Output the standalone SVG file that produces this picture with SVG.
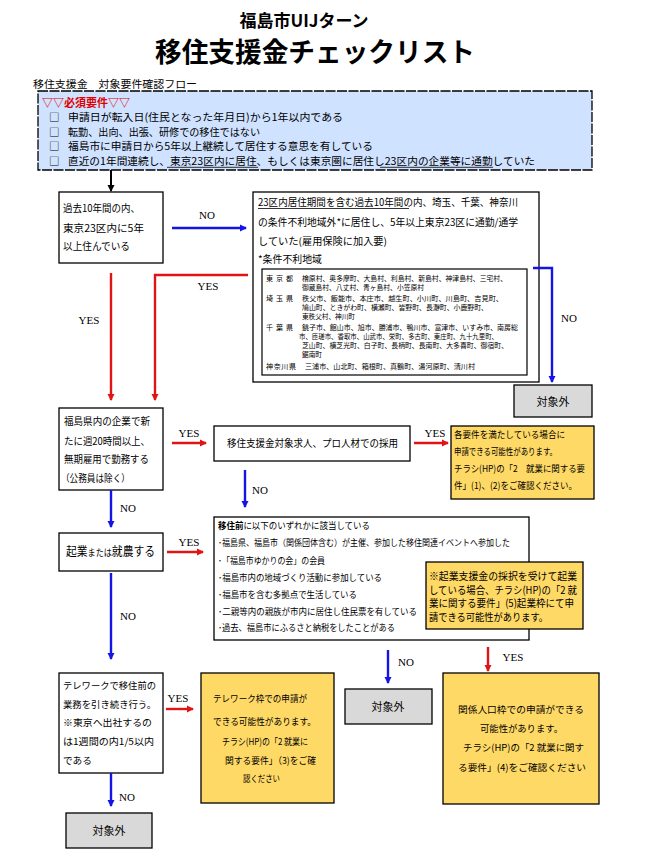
<svg xmlns="http://www.w3.org/2000/svg" width="646" height="863" viewBox="0 0 646 863">
<style>
.t{font-family:"Noto Sans CJK JP","Noto Sans",sans-serif;fill:#000}
.yn{font-family:"Liberation Serif",serif;font-size:11px;fill:#000}
.box{fill:#fff;stroke:#000;stroke-width:1.3}
.yel{fill:#ffd966;stroke:#000;stroke-width:1.3}
.gray{fill:#d9d9d9;stroke:#000;stroke-width:1.3}
.blue{stroke:#1414e6;stroke-width:2.4;fill:none}
.red{stroke:#e01414;stroke-width:2.4;fill:none}
.blk{stroke:#000;stroke-width:2;fill:none}
.f10{font-size:10px}
.f9{font-size:9.5px}
.tb{font-size:7px}
</style>
<defs>
<marker id="ab" markerWidth="8" markerHeight="8" refX="6" refY="4" orient="auto" markerUnits="userSpaceOnUse"><path d="M0,0.5 L7,4 L0,7.5 Z" fill="#1414e6"/></marker>
<marker id="ar" markerWidth="8" markerHeight="8" refX="6" refY="4" orient="auto" markerUnits="userSpaceOnUse"><path d="M0,0.5 L7,4 L0,7.5 Z" fill="#e01414"/></marker>
<marker id="ak" markerWidth="8" markerHeight="8" refX="6" refY="4" orient="auto" markerUnits="userSpaceOnUse"><path d="M0,0.5 L7,4 L0,7.5 Z" fill="#000"/></marker>
</defs>
<rect width="646" height="863" fill="#fff"/>

<g id="title">
<text class="t" x="304" y="27" text-anchor="middle" font-size="17" font-weight="700">福島市UIJターン</text>
<text class="t" x="315" y="62" text-anchor="middle" font-size="27" font-weight="700" textLength="320" lengthAdjust="spacingAndGlyphs">移住支援金チェックリスト</text>
<text class="t" x="33" y="88" font-size="10.5" textLength="164" lengthAdjust="spacingAndGlyphs">移住支援金　対象要件確認フロー</text>
</g>

<g id="requirements">
<rect x="38" y="91" width="554" height="79" fill="#cfe2ff" stroke="#000" stroke-width="1.3" stroke-dasharray="10,1.5"/>
<text class="t" x="42" y="106.5" font-size="11" font-weight="700" style="fill:#e00000" textLength="88" lengthAdjust="spacingAndGlyphs">▽▽必須要件▽▽</text>
<g font-size="10.5">
<text class="t" x="49" y="121">□</text>
<text class="t" x="68" y="121" textLength="275" lengthAdjust="spacingAndGlyphs">申請日が転入日(住民となった年月日)から1年以内である</text>
<text class="t" x="49" y="135.5">□</text>
<text class="t" x="68" y="135.5" textLength="192" lengthAdjust="spacingAndGlyphs">転勤、出向、出張、研修での移住ではない</text>
<text class="t" x="49" y="150">□</text>
<text class="t" x="68" y="150" textLength="305" lengthAdjust="spacingAndGlyphs">福島市に申請日から5年以上継続して居住する意思を有している</text>
<text class="t" x="49" y="164.5">□</text>
<text class="t" x="68" y="164.5" textLength="467" lengthAdjust="spacingAndGlyphs">直近の1年間連続し、東京23区内に居住、もしくは東京圏に居住し23区内の企業等に通勤していた</text>
</g>
<line x1="167" y1="167.3" x2="258" y2="167.3" stroke="#000" stroke-width="0.8"/>
<line x1="380" y1="167.3" x2="493" y2="167.3" stroke="#000" stroke-width="0.8"/>
</g>

<g id="q1">
<rect class="box" x="59" y="192" width="104" height="71"/>
<text class="t f10" x="63" y="212" textLength="77" lengthAdjust="spacingAndGlyphs">過去10年間の内、</text>
<text class="t f10" x="63" y="232" textLength="81" lengthAdjust="spacingAndGlyphs">東京23区内に5年</text>
<text class="t f10" x="63" y="250" textLength="67" lengthAdjust="spacingAndGlyphs">以上住んでいる</text>
</g>

<g id="q2">
<rect class="box" x="253" y="192" width="286" height="190"/>
<text class="t f10" x="258" y="206" textLength="260" lengthAdjust="spacingAndGlyphs">23区内居住期間を含む過去10年間の内、埼玉、千葉、神奈川</text>
<line x1="258" y1="208.5" x2="409" y2="208.5" stroke="#000" stroke-width="0.8"/>
<text class="t f10" x="258" y="226" textLength="260" lengthAdjust="spacingAndGlyphs">の条件不利地域外*に居住し、5年以上東京23区に通勤/通学</text>
<text class="t f10" x="258" y="245" textLength="129" lengthAdjust="spacingAndGlyphs">していた(雇用保険に加入要)</text>
<text class="t f10" x="258" y="263" textLength="64" lengthAdjust="spacingAndGlyphs">*条件不利地域</text>
<rect x="262" y="269" width="265" height="106" fill="#fff" stroke="#000" stroke-width="1.2"/>
<g class="tb">
<text class="t tb" x="266" y="281" textLength="27">東京都</text>
<text class="t tb" x="302" y="281" textLength="205" lengthAdjust="spacingAndGlyphs">檜原村、奥多摩町、大島村、利島村、新島村、神津島村、三宅村、</text>
<text class="t tb" x="302" y="290" textLength="122" lengthAdjust="spacingAndGlyphs">御蔵島村、八丈村、青ヶ島村、小笠原村</text>
<text class="t tb" x="266" y="301" textLength="27">埼玉県</text>
<text class="t tb" x="302" y="301" textLength="201" lengthAdjust="spacingAndGlyphs">秩父市、飯能市、本庄市、越生町、小川町、川島町、吉見町、</text>
<text class="t tb" x="302" y="310" textLength="186" lengthAdjust="spacingAndGlyphs">鳩山町、ときがわ町、横瀬町、皆野町、長瀞町、小鹿野町、</text>
<text class="t tb" x="302" y="319" textLength="53" lengthAdjust="spacingAndGlyphs">東秩父村、神川町</text>
<text class="t tb" x="266" y="330" textLength="27">千葉県</text>
<text class="t tb" x="302" y="330" textLength="216" lengthAdjust="spacingAndGlyphs">銚子市、館山市、旭市、勝浦市、鴨川市、富津市、いすみ市、南房総</text>
<text class="t tb" x="299" y="339" textLength="199" lengthAdjust="spacingAndGlyphs">市、匝瑳市、香取市、山武市、栄町、多古町、東庄町、九十九里町、</text>
<text class="t tb" x="302" y="348" textLength="206" lengthAdjust="spacingAndGlyphs">芝山町、横芝光町、白子町、長柄町、長南町、大多喜町、御宿町、</text>
<text class="t tb" x="302" y="357" textLength="20" lengthAdjust="spacingAndGlyphs">鋸南町</text>
<text class="t tb" x="266" y="369" textLength="30">神奈川県</text>
<text class="t tb" x="305" y="369" textLength="170" lengthAdjust="spacingAndGlyphs">三浦市、山北町、箱根町、真鶴町、湯河原町、清川村</text>
</g>
</g>

<g id="out1">
<rect class="gray" x="514" y="385" width="78" height="32"/>
<text class="t" x="553" y="406" text-anchor="middle" font-size="11">対象外</text>
</g>

<g id="q3">
<rect class="box" x="59" y="408" width="104" height="82"/>
<text class="t f10" x="64" y="425" textLength="86" lengthAdjust="spacingAndGlyphs">福島県内の企業で新</text>
<text class="t f10" x="64" y="445" textLength="86" lengthAdjust="spacingAndGlyphs">たに週20時間以上、</text>
<text class="t f10" x="64" y="463" textLength="85" lengthAdjust="spacingAndGlyphs">無期雇用で勤務する</text>
<text class="t f10" x="61" y="482" textLength="69" lengthAdjust="spacingAndGlyphs">（公務員は除く）</text>
</g>

<g id="q3b">
<rect class="box" x="214" y="426" width="196" height="35"/>
<text class="t f10" x="227" y="447" textLength="171" lengthAdjust="spacingAndGlyphs">移住支援金対象求人、プロ人材での採用</text>
</g>

<g id="res1">
<rect class="yel" x="451" y="426" width="143" height="73"/>
<text class="t f9" x="454" y="438" textLength="111" lengthAdjust="spacingAndGlyphs">各要件を満たしている場合に</text>
<text class="t f9" x="454" y="455" textLength="103" lengthAdjust="spacingAndGlyphs">申請できる可能性があります。</text>
<text class="t f9" x="454" y="472" textLength="131" lengthAdjust="spacingAndGlyphs">チラシ(HP)の「2　就業に関する要</text>
<text class="t f9" x="454" y="489" textLength="123" lengthAdjust="spacingAndGlyphs">件」(1)、(2)をご確認ください。</text>
</g>

<g id="q4">
<rect class="box" x="59" y="533" width="104" height="38"/>
<text class="t" x="66" y="556" font-size="12" textLength="89" lengthAdjust="spacingAndGlyphs">起業<tspan font-size="9">または</tspan>就農する</text>
</g>

<g id="q4b">
<rect class="box" x="214" y="517" width="315" height="123"/>
<text class="t" x="218" y="529" font-size="9" textLength="152" lengthAdjust="spacingAndGlyphs"><tspan font-weight="700">移住前</tspan>に以下のいずれかに該当している</text>
<text class="t" x="218" y="546" font-size="9" textLength="292" lengthAdjust="spacingAndGlyphs">･福島県、福島市（関係団体含む）が主催、参加した移住関連イベントへ参加した</text>
<text class="t" x="218" y="564" font-size="9" textLength="107" lengthAdjust="spacingAndGlyphs">･「福島市ゆかりの会」の会員</text>
<text class="t" x="218" y="581" font-size="9" textLength="164" lengthAdjust="spacingAndGlyphs">･福島市内の地域づくり活動に参加している</text>
<text class="t" x="218" y="598" font-size="9" textLength="139" lengthAdjust="spacingAndGlyphs">･福島市を含む多拠点で生活している</text>
<text class="t" x="218" y="615" font-size="9" textLength="199" lengthAdjust="spacingAndGlyphs">･二親等内の親族が市内に居住し住民票を有している</text>
<text class="t" x="218" y="631" font-size="9" textLength="177" lengthAdjust="spacingAndGlyphs">･過去、福島市にふるさと納税をしたことがある</text>
</g>

<g id="note">
<rect class="yel" x="426" y="562" width="157" height="67"/>
<text class="t" x="429" y="580" font-size="10.5" textLength="148" lengthAdjust="spacingAndGlyphs">※起業支援金の採択を受けて起業</text>
<text class="t" x="429" y="593.5" font-size="10.5" textLength="148" lengthAdjust="spacingAndGlyphs">している場合、チラシ(HP)の「2 就</text>
<text class="t" x="429" y="607" font-size="10.5" textLength="145" lengthAdjust="spacingAndGlyphs">業に関する要件」(5)起業枠にて申</text>
<text class="t" x="429" y="620.5" font-size="10.5" textLength="119" lengthAdjust="spacingAndGlyphs">請できる可能性があります。</text>
</g>

<g id="out2">
<rect class="gray" x="345" y="689" width="87" height="35"/>
<text class="t" x="388" y="711" text-anchor="middle" font-size="11">対象外</text>
</g>

<g id="res3">
<rect class="yel" x="443" y="673" width="156" height="131"/>
<text class="t f9" x="458" y="713" textLength="126" lengthAdjust="spacingAndGlyphs">関係人口枠での申請ができる</text>
<text class="t f9" x="480" y="732" textLength="83" lengthAdjust="spacingAndGlyphs">可能性があります。</text>
<text class="t f9" x="463" y="751" textLength="121" lengthAdjust="spacingAndGlyphs">チラシ(HP)の「2 就業に関す</text>
<text class="t f9" x="458" y="771" textLength="128" lengthAdjust="spacingAndGlyphs">る要件」(4)をご確認ください</text>
</g>

<g id="q5">
<rect class="box" x="59" y="673" width="104" height="100"/>
<text class="t f9" x="63" y="689" textLength="93" lengthAdjust="spacingAndGlyphs">テレワークで移住前の</text>
<text class="t f9" x="63" y="708" textLength="93" lengthAdjust="spacingAndGlyphs">業務を引き続き行う。</text>
<text class="t f9" x="63" y="726" textLength="89" lengthAdjust="spacingAndGlyphs">※東京へ出社するの</text>
<text class="t f9" x="63" y="745" textLength="91" lengthAdjust="spacingAndGlyphs">は1週間の内1/5以内</text>
<text class="t f9" x="63" y="764" textLength="29" lengthAdjust="spacingAndGlyphs">である</text>
</g>

<g id="res2">
<rect class="yel" x="201" y="673" width="133" height="130"/>
<text class="t f9" x="213" y="702" textLength="94" lengthAdjust="spacingAndGlyphs">テレワーク枠での申請が</text>
<text class="t f9" x="213" y="725" textLength="103" lengthAdjust="spacingAndGlyphs">できる可能性があります。</text>
<text class="t f9" x="222" y="745" textLength="86" lengthAdjust="spacingAndGlyphs">チラシ(HP)の「2 就業に</text>
<text class="t f9" x="225" y="764" textLength="91" lengthAdjust="spacingAndGlyphs">関する要件」（3)をご確</text>
<text class="t f9" x="243" y="782" textLength="37" lengthAdjust="spacingAndGlyphs">認ください</text>
</g>

<g id="out3">
<rect class="gray" x="66" y="813" width="86" height="35"/>
<text class="t" x="109" y="835" text-anchor="middle" font-size="11">対象外</text>
</g>

<g id="connectors">
<line class="blk" x1="111" y1="170" x2="111" y2="191" marker-end="url(#ak)"/>
<line class="blue" x1="172" y1="228" x2="246" y2="228" marker-end="url(#ab)"/>
<text class="yn" x="207" y="219" text-anchor="middle">NO</text>
<line class="red" x1="111" y1="273" x2="111" y2="400" marker-end="url(#ar)"/>
<text class="yn" x="89" y="324" text-anchor="middle">YES</text>
<polyline class="red" points="248,275 155,275 155,400" marker-end="url(#ar)"/>
<text class="yn" x="208" y="290" text-anchor="middle">YES</text>
<polyline class="blue" points="533,268 552,268 552,382" stroke-width="3" marker-end="url(#ab)"/>
<text class="yn" x="569" y="322" text-anchor="middle">NO</text>
<line class="red" x1="172" y1="443" x2="206" y2="443" marker-end="url(#ar)"/>
<text class="yn" x="189" y="437" text-anchor="middle">YES</text>
<line class="red" x1="414" y1="443" x2="448" y2="443" marker-end="url(#ar)"/>
<text class="yn" x="435" y="437" text-anchor="middle">YES</text>
<line class="blue" x1="245" y1="470" x2="245" y2="507" marker-end="url(#ab)"/>
<text class="yn" x="260" y="494" text-anchor="middle">NO</text>
<line class="blue" x1="111" y1="490" x2="111" y2="527" marker-end="url(#ab)"/>
<text class="yn" x="128" y="512" text-anchor="middle">NO</text>
<line class="red" x1="167" y1="552" x2="203" y2="552" marker-end="url(#ar)"/>
<text class="yn" x="189" y="546" text-anchor="middle">YES</text>
<line class="blue" x1="111" y1="573" x2="111" y2="659" marker-end="url(#ab)"/>
<text class="yn" x="128" y="620" text-anchor="middle">NO</text>
<line class="blue" x1="388" y1="650" x2="388" y2="683" marker-end="url(#ab)"/>
<text class="yn" x="406" y="666" text-anchor="middle">NO</text>
<line class="red" x1="488" y1="647" x2="488" y2="671" marker-end="url(#ar)"/>
<text class="yn" x="513" y="661" text-anchor="middle">YES</text>
<line class="red" x1="166" y1="709" x2="193" y2="709" marker-end="url(#ar)"/>
<text class="yn" x="178" y="702" text-anchor="middle">YES</text>
<line class="blue" x1="111" y1="773" x2="111" y2="806" marker-end="url(#ab)"/>
<text class="yn" x="127" y="801" text-anchor="middle">NO</text>
</g>
</svg>
